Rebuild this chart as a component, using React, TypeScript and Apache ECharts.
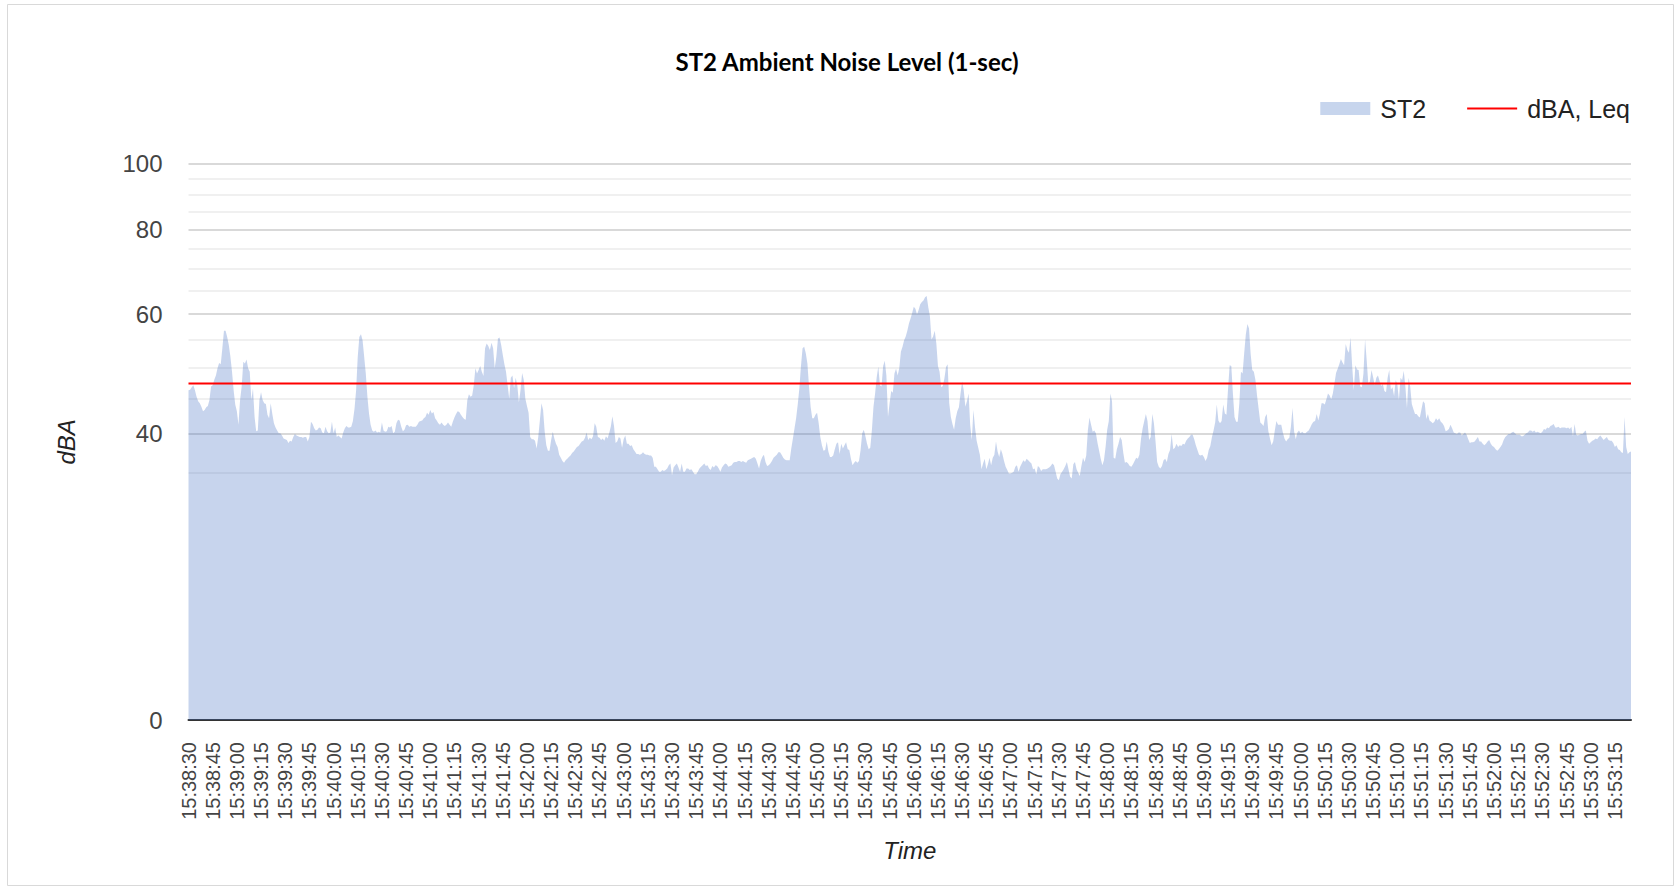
import React, { useEffect, useRef } from "react";
import * as echarts from "echarts";

const TITLE = "ST2 Ambient Noise Level (1-sec)";
const START_TIME = "15:38:30";
const LEQ = 47.4;
const Y_MIN = 15.1; // bottom of the log axis, shown as "0"
const Y_MAX = 100;
const MAJOR_GRID = [40, 60, 80, 100];
const MINOR_GRID = [35, 45, 50, 55, 65, 70, 75, 85, 90, 95];

// ST2 1-second levels (dBA), 15:38:30 onwards
const ST2_A = [
  46.3, 46.4, 46.8, 47.1, 46.3, 45.3, 44.6, 44.3, 43.8, 43.1,
  43.3, 43.7, 43.9, 44.8, 46.9, 47.1, 48.0, 48.7, 49.9, 50.8,
  50.6, 53.4, 56.7, 56.7, 55.5, 54.0, 51.9, 49.3, 46.3, 44.1,
  43.1, 41.2, 44.8, 46.9, 51.0, 50.7, 51.4, 49.9, 49.3, 44.8,
  46.6, 42.3, 40.3, 40.4, 44.8, 46.0, 44.8, 44.3, 44.2, 42.6,
  42.1, 44.3, 42.7, 41.4, 40.8, 40.4, 40.0, 40.0, 39.7, 39.3,
  39.2, 39.1, 38.7, 39.0, 38.9, 39.5, 39.9, 39.7, 39.6, 39.5,
  39.5, 39.4, 39.5, 39.5, 38.9, 39.5, 41.6, 41.3, 40.7, 40.4,
  40.5, 40.8, 40.7, 40.1, 40.0, 40.9, 40.3, 40.0, 40.1, 41.6,
  40.0, 40.8, 39.5, 39.7, 39.5, 39.3, 40.1, 40.7, 41.0, 40.8,
  40.8, 40.9, 41.7, 43.5, 46.3, 51.9, 55.5, 56.0, 54.9, 51.9,
  49.0, 45.3, 42.8, 41.2, 40.4, 40.2, 40.4, 40.1, 40.2, 40.1,
  41.5, 40.4, 40.2, 40.3, 40.9, 40.8, 41.0,
];
const ST2_B = [
  40.0, 40.2, 41.4,
  41.9, 41.8, 40.9, 40.3, 40.5, 41.1, 41.2, 40.9, 41.0, 40.9,
  40.9, 40.9, 41.2, 41.6, 41.7, 41.8, 42.1, 42.3, 42.9, 42.6,
  43.3, 42.8, 43.0, 42.1, 41.8, 41.4, 41.2, 41.5, 41.2, 41.0,
  41.2, 41.5, 41.2, 40.9, 41.6, 42.2, 42.7, 43.1, 43.0, 42.6,
  42.3, 42.0, 41.9, 44.8, 45.7, 45.3, 45.5, 47.1, 49.9, 49.0,
  49.6, 50.3, 49.3, 48.6, 53.4, 54.3, 53.8, 53.1, 54.4, 53.4,
  49.9, 51.9, 55.2, 55.4, 54.0, 52.2, 50.6, 49.3, 47.1, 45.0,
  48.3, 48.7, 46.6, 48.3, 47.1, 44.4, 46.3, 49.1, 48.0, 45.0,
  43.9, 42.9, 39.5, 39.2, 39.2, 39.0, 38.0, 39.5, 41.8, 44.3,
  43.3, 40.2, 38.4, 37.7, 37.7, 39.1, 40.2, 39.3, 38.6, 38.2,
  37.2, 36.8, 36.4, 36.2, 36.5, 36.7, 36.9, 37.1, 37.4, 37.6,
  37.9, 38.2, 38.3, 38.6, 38.9, 39.0, 39.4, 40.1, 39.1, 39.4,
  39.2, 39.6, 41.4, 40.9,
];
const ST2_C = [
  39.5, 39.4, 39.1, 39.3, 39.0, 39.6,
  39.3, 40.0, 40.9, 42.4, 41.0, 38.7, 38.9, 39.5, 39.3, 38.1,
  39.2, 39.7, 38.6, 38.6, 38.3, 38.4, 37.9, 37.6, 37.3, 37.3,
  37.2, 37.3, 37.5, 37.3, 37.2, 37.2, 37.1, 37.1, 36.8, 35.7,
  35.7, 35.4, 35.1, 35.1, 35.3, 35.2, 35.3, 35.5, 35.9, 36.1,
  34.7, 35.6, 35.9, 36.1, 35.6, 35.1, 36.1, 35.1, 35.1, 35.5,
  35.5, 35.3, 35.4, 35.1, 34.8, 34.8, 35.1, 35.5, 35.7, 35.9,
  36.1, 35.8, 35.9, 35.5, 35.3, 35.8, 35.6, 35.9, 35.8, 35.5,
  35.1, 35.6, 35.9, 36.1, 36.0, 35.7, 35.8, 35.9, 36.2, 36.3,
  36.3, 36.4, 36.4, 36.3, 36.4, 36.3, 36.2, 36.5, 36.6, 36.7,
  36.8, 36.9, 36.7, 36.1, 35.5, 36.4, 36.9, 37.2, 36.3, 35.8,
  35.9, 36.1, 36.4, 36.8, 37.0, 37.2, 37.5, 37.5, 37.2, 36.8,
  36.6, 36.5, 36.5, 36.5, 38.0, 39.3, 40.7, 42.1, 44.1, 46.6,
  50.3, 53.4,
];
const ST2_D = [
  53.7, 52.5, 50.7, 46.9, 43.8, 42.1, 42.1, 42.6,
  42.9, 41.4, 39.5, 38.4, 37.7, 37.8, 38.9, 37.6, 36.9, 36.9,
  37.1, 37.9, 38.6, 38.8, 37.3, 38.6, 38.0, 38.4, 38.8, 37.9,
  37.8, 36.7, 35.9, 36.2, 36.4, 36.2, 36.4, 37.8, 40.0, 40.5,
  39.6, 38.6, 37.9, 38.1, 40.4, 43.8, 45.8, 48.4, 50.2, 47.1,
  46.9, 50.3, 51.2, 48.7, 42.3, 44.3, 46.2, 45.9, 49.0, 49.8,
  48.7, 49.9, 52.8, 53.7, 54.9, 55.6, 56.7, 58.1, 59.1, 60.2,
  61.5, 61.1, 59.9, 60.8, 62.0, 62.5, 62.8, 63.5, 63.8, 61.4,
  59.6, 55.0, 55.6, 56.7, 54.3, 50.3, 49.3, 46.8, 47.0, 48.2,
  50.1, 50.6, 44.3, 42.3, 41.3, 40.5, 42.1, 43.1, 43.7, 45.8,
  47.7, 46.3, 43.8, 44.6, 45.8, 41.2, 39.1, 43.3, 40.8, 39.0,
  38.1, 37.2, 35.4, 36.1, 36.7, 35.4, 36.0, 36.8, 35.9, 36.8,
  37.2, 38.9, 37.6, 36.9, 37.9, 37.3, 36.4, 35.7, 35.3, 34.9,
];
const ST2_E = [
  34.9, 35.0, 35.1, 35.7, 35.9, 35.1, 35.7, 36.1, 36.5, 36.3,
  36.7, 36.5, 36.3, 36.1, 35.4, 35.5, 34.8, 35.8, 35.6, 35.2,
  35.4, 35.4, 35.4, 35.5, 35.6, 35.8, 36.1, 35.9, 35.1, 34.3,
  34.1, 34.8, 35.1, 35.4, 35.8, 36.3, 35.4, 34.5, 34.3, 36.0,
  36.3, 35.4, 35.0, 34.6, 35.8, 36.8, 36.3, 37.1, 40.4, 42.2,
  41.2, 40.2, 40.4, 40.0, 38.7, 37.7, 36.7, 35.9, 36.5, 38.2,
  40.5, 41.7, 45.8, 44.6, 36.8, 36.7, 37.9, 38.6, 39.5, 39.1,
  37.4, 36.2, 36.3, 36.1, 35.8, 35.7, 36.0, 36.4, 36.8, 36.7,
  37.2, 39.3, 40.7, 41.7, 42.7, 41.7, 39.1, 39.5, 42.7, 41.4,
  38.9, 36.3, 35.7, 35.5, 35.8, 36.5, 36.7, 36.3, 37.3, 37.8,
  39.9, 37.9, 38.1, 38.6, 38.2, 38.4, 38.3, 38.6, 38.5, 39.0,
  39.3, 39.5, 39.8, 39.8, 39.2, 38.4, 37.8, 37.2, 37.1, 37.2,
  36.9, 36.4, 36.8, 37.8, 38.3, 39.5, 40.4, 41.5, 44.1,
];
const ST2_F = [
  41.8, 41.4, 41.7, 44.1, 42.8, 42.6, 46.6, 50.4, 50.3, 45.8, 42.3,
  41.6, 41.6, 44.3, 49.3, 49.0, 52.5, 55.9, 58.0, 57.1, 52.4,
  49.6, 49.3, 47.9, 45.4, 43.4, 41.5, 41.3, 41.0, 42.3, 42.7,
  40.3, 39.3, 38.4, 38.9, 40.4, 41.7, 41.2, 41.2, 41.2, 40.1,
  39.3, 38.9, 39.2, 39.4, 40.9, 43.6, 40.2, 39.2, 40.1, 40.4,
  40.0, 40.2, 40.0, 40.0, 40.2, 40.4, 40.8, 41.3, 41.6, 41.7,
  42.7, 41.8, 42.8, 44.3, 44.3, 44.1, 44.9, 45.8, 45.5, 44.9,
  45.8, 47.4, 49.1, 49.8, 50.6, 51.5, 50.9, 50.4, 54.2, 53.1,
  52.6, 55.4, 50.3, 46.3, 50.4, 49.7, 49.6, 46.9, 46.8, 49.0,
  55.0, 51.3, 47.4, 47.7, 49.6, 48.4, 47.1, 48.3, 48.7, 47.8,
  47.0, 47.3, 46.2, 46.0, 48.3, 49.6, 46.4, 46.8, 45.4, 47.9,
  47.3, 44.8, 48.3, 47.9, 49.5, 46.9, 43.6, 48.3, 46.9, 44.2,
  43.4, 42.7, 42.7, 42.4, 42.2, 43.4, 44.6, 44.3,
];
const ST2_G = [
  42.0, 42.7, 41.8, 41.6, 41.4, 41.6, 42.1, 41.8, 42.1, 41.6, 41.4, 41.0,
  40.3, 40.4, 40.6, 41.2, 40.7, 40.1, 40.0, 39.9, 40.1, 40.1,
  39.7, 39.9, 40.1, 39.8, 39.2, 38.7, 38.8, 38.8, 38.9, 39.2,
  39.5, 38.9, 38.9, 38.6, 38.4, 38.6, 38.9, 39.1, 38.6, 38.3,
  38.2, 37.9, 37.7, 37.9, 38.2, 38.5, 39.1, 39.5, 39.7, 39.9,
  39.9, 40.1, 40.2, 40.0, 39.8, 39.8, 39.8, 39.6, 39.6, 39.8,
  40.0, 40.1, 40.4, 40.4, 40.2, 40.4, 40.1, 40.2, 40.1, 40.0,
  40.2, 40.6, 40.5, 40.8, 40.7, 41.0, 41.1, 41.3, 40.8, 40.8,
  40.9, 40.7, 40.8, 40.8, 40.8, 40.7, 40.8, 40.6, 40.9, 39.6,
  41.3, 39.8, 39.7, 39.8, 39.9, 39.9, 40.2, 40.4, 39.0, 38.6,
  38.8, 39.0, 39.1, 39.3, 39.2, 39.5, 39.7, 39.4, 39.1, 39.3,
  39.5, 39.1, 39.0, 39.0, 38.7, 38.2, 38.4, 37.9, 37.8, 37.5,
  37.4, 42.3, 38.2, 37.3, 37.5, 37.6,
];

const ST2 = [...ST2_A, ...ST2_B, ...ST2_C, ...ST2_D, ...ST2_E, ...ST2_F, ...ST2_G];

function buildTimes(start: string, n: number): string[] {
  const [h, m, s] = start.split(":").map(Number);
  const base = h * 3600 + m * 60 + s;
  const out: string[] = [];
  const p = (v: number) => String(v).padStart(2, "0");
  for (let i = 0; i < n; i++) {
    const t = base + i;
    out.push(`${p(Math.floor(t / 3600))}:${p(Math.floor((t % 3600) / 60))}:${p(t % 60)}`);
  }
  return out;
}

const TIMES = buildTimes(START_TIME, ST2.length);
const LEQ_LINE = ST2.map(() => LEQ);

const FONT = "'Liberation Sans', Arial, sans-serif";

export default function App() {
  const ref = useRef<HTMLDivElement>(null);
  useEffect(() => {
    if (!ref.current) return;
    const chart = echarts.init(ref.current, undefined, { renderer: "svg" });
    const gridLines = [
      ...MINOR_GRID.map((v) => ({ yAxis: v, lineStyle: { color: "#ebebeb", width: 1.5, type: "solid" } })),
      ...MAJOR_GRID.map((v) => ({
        yAxis: v,
        lineStyle: { color: "#cccccc", width: 1.5, type: "solid" },
        label: { show: true, formatter: String(v) },
      })),
      {
        yAxis: Y_MIN,
        lineStyle: { color: "rgba(0,0,0,0)", width: 1, type: "solid" },
        label: { show: true, formatter: "0" },
      },
    ];
    chart.setOption({
      animation: false,
      backgroundColor: "#ffffff",
      textStyle: { fontFamily: FONT },
      title: {
        text: TITLE,
        left: 842,
        textAlign: "center",
        top: 44,
        textStyle: { fontFamily: "Lato, 'Open Sans', sans-serif", fontWeight: "bold", fontSize: 24, color: "#000" },
      },
      graphic: [
        {
          type: "rect",
          shape: { x: 7.5, y: 4.5, width: 1666, height: 881 },
          style: { fill: "none", stroke: "#d9d9d9", lineWidth: 1 },
          silent: true,
          z: -10,
        },
      ],
      legend: {
        right: 44,
        top: 91,
        itemWidth: 50,
        itemHeight: 13,
        itemGap: 40,
        textStyle: { fontFamily: FONT, fontSize: 25, color: "#222", padding: [0, 0, 0, 5] },
        data: [
          { name: "ST2", icon: "rect", itemStyle: { color: "#c7d5ed" } },
          { name: "dBA, Leq", itemStyle: { opacity: 0 } },
        ],
      },
      grid: { left: 188.5, right: 48, top: 163.7, bottom: 168, containLabel: false },
      xAxis: {
        type: "category",
        data: TIMES,
        boundaryGap: false,
        name: "Time",
        nameLocation: "middle",
        nameGap: 118,
        nameTextStyle: { fontFamily: FONT, fontSize: 24, fontStyle: "italic", color: "#222" },
        axisLine: { show: true, lineStyle: { color: "#333", width: 2 } },
        axisTick: { show: false },
        splitLine: { show: false },
        axisLabel: { interval: 14, rotate: 90, margin: 22, fontSize: 20, color: "#444", fontFamily: FONT },
      },
      yAxis: {
        type: "log",
        logBase: 10,
        min: Y_MIN,
        max: Y_MAX,
        name: "dBA",
        nameLocation: "middle",
        nameRotate: 90,
        nameGap: 110,
        nameTextStyle: { fontFamily: FONT, fontSize: 24, fontStyle: "italic", color: "#222" },
        axisLine: { show: false },
        axisTick: { show: false },
        axisLabel: { show: false },
        splitLine: { show: false },
      },
      series: [
        {
          type: "line",
          data: [],
          z: 1,
          silent: true,
          markLine: {
            z: 1,
            silent: true,
            symbol: ["none", "none"],
            animation: false,
            label: { show: false, position: "start", distance: 26, fontSize: 24, color: "#444", fontFamily: FONT },
            emphasis: { disabled: true },
            data: gridLines,
          },
        },
        {
          name: "ST2",
          type: "line",
          data: ST2,
          z: 2,
          symbol: "none",
          showSymbol: false,
          itemStyle: { color: "#c7d5ed" },
          lineStyle: { width: 0 },
          areaStyle: { color: "#4472c4", opacity: 0.3, origin: "start" },
        },
        {
          name: "dBA, Leq",
          type: "line",
          data: LEQ_LINE,
          z: 3,
          symbol: "none",
          showSymbol: false,
          itemStyle: { color: "#ff0000" },
          lineStyle: { color: "#ff0000", width: 2 },
        },
      ],
    });
    return () => chart.dispose();
  }, []);
  return (
    <div
      ref={ref}
      style={{ position: "fixed", left: 0, top: 0, width: "1679px", height: "888px", background: "#fff" }}
    />
  );
}
